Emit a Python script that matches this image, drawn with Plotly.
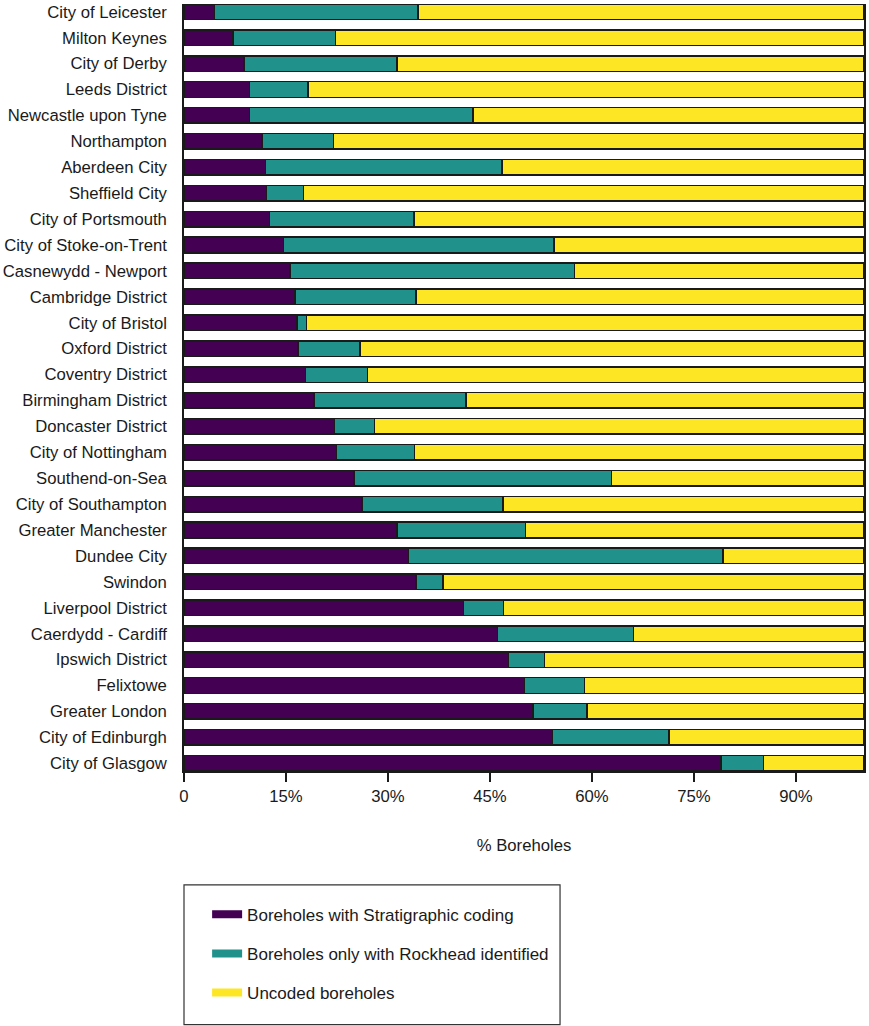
import plotly.graph_objects as go

categories = [
    "City of Leicester", "Milton Keynes", "City of Derby", "Leeds District",
    "Newcastle upon Tyne", "Northampton", "Aberdeen City", "Sheffield City",
    "City of Portsmouth", "City of Stoke-on-Trent", "Casnewydd - Newport",
    "Cambridge District", "City of Bristol", "Oxford District", "Coventry District",
    "Birmingham District", "Doncaster District", "City of Nottingham",
    "Southend-on-Sea", "City of Southampton", "Greater Manchester", "Dundee City",
    "Swindon", "Liverpool District", "Caerdydd - Cardiff", "Ipswich District",
    "Felixtowe", "Greater London", "City of Edinburgh", "City of Glasgow",
]

stratigraphic = [4.5, 7.2, 8.8, 9.6, 9.6, 11.5, 12.0, 12.1, 12.6, 14.6, 15.6,
                 16.3, 16.6, 16.8, 17.9, 19.1, 22.1, 22.4, 25.0, 26.2, 31.3,
                 33.0, 34.1, 41.1, 46.1, 47.7, 50.1, 51.3, 54.2, 79.0]
rockhead = [29.9, 15.1, 22.5, 8.6, 32.9, 10.5, 34.8, 5.5, 21.2, 39.8, 41.8,
            17.8, 1.4, 9.1, 9.1, 22.4, 5.9, 11.5, 37.9, 20.7, 18.9,
            46.3, 4.0, 5.9, 20.0, 5.3, 8.8, 8.0, 17.1, 6.2]
uncoded = [65.6, 77.7, 68.7, 81.8, 57.5, 78.0, 53.2, 82.4, 66.2, 45.6, 42.6,
           65.9, 82.0, 74.1, 73.0, 58.5, 72.0, 66.1, 37.1, 53.1, 49.8,
           20.7, 61.9, 53.0, 33.9, 47.0, 41.1, 40.7, 28.7, 14.8]

series_names = ["Boreholes with Stratigraphic coding",
                "Boreholes only with Rockhead identified",
                "Uncoded boreholes"]
series_colors = ["#440154", "#21918c", "#fde725"]

x_tick_vals = [0, 15, 30, 45, 60, 75, 90]
x_tick_text = ["0", "15%", "30%", "45%", "60%", "75%", "90%"]

FONT = "Liberation Sans, Arial, sans-serif"

fig = go.Figure()
for name, vals, col in zip(series_names, [stratigraphic, rockhead, uncoded], series_colors):
    fig.add_trace(go.Bar(
        y=categories, x=vals, orientation="h", name=name,
        marker=dict(color=col, line=dict(color="#1a1a1a", width=1.5)),
        showlegend=False,
    ))
# legend entries drawn as short thick lines
for i, (name, col) in enumerate(zip(series_names, series_colors)):
    fig.add_trace(go.Scatter(
        x=[None], y=[None], mode="lines", name=name,
        line=dict(color=col, width=8), legendgroup=f"g{i}", showlegend=True,
    ))

n = len(categories)
fig.update_layout(
    width=869, height=1026,
    margin=dict(l=183, r=4, t=3, b=255),
    barmode="stack", bargap=0.4,
    plot_bgcolor="white", paper_bgcolor="white",
    font=dict(family=FONT, size=16.7, color="#1a1a1a"),
    xaxis=dict(
        range=[0, 100], tickvals=x_tick_vals, ticktext=x_tick_text,
        showline=True, linecolor="#1a1a1a", linewidth=1.5,
        ticks="outside", ticklen=9, tickwidth=1.5, tickcolor="#1a1a1a",
        showgrid=False, zeroline=False,
        title=dict(text="% Boreholes", standoff=35, font=dict(size=16.7)),
    ),
    yaxis=dict(
        type="category", range=[n - 0.7, -0.3],
        showline=True, mirror=True, linecolor="#1a1a1a", linewidth=1.5,
        ticks="", showgrid=False, zeroline=False, ticklabelstandoff=12,
    ),
    legend=dict(
        x=0.034, xanchor="left", y=-0.164, yanchor="top",
        traceorder="grouped", tracegroupgap=14,
        font=dict(size=17, family=FONT), bgcolor="rgba(0,0,0,0)",
    ),
    shapes=[dict(
        type="rect", xref="paper", yref="paper",
        x0=0.0, x1=0.553, y0=-0.3307, y1=-0.1484,
        line=dict(color="#333333", width=1.2), fillcolor="rgba(0,0,0,0)",
    )],
)

fig.write_html("out.html")
